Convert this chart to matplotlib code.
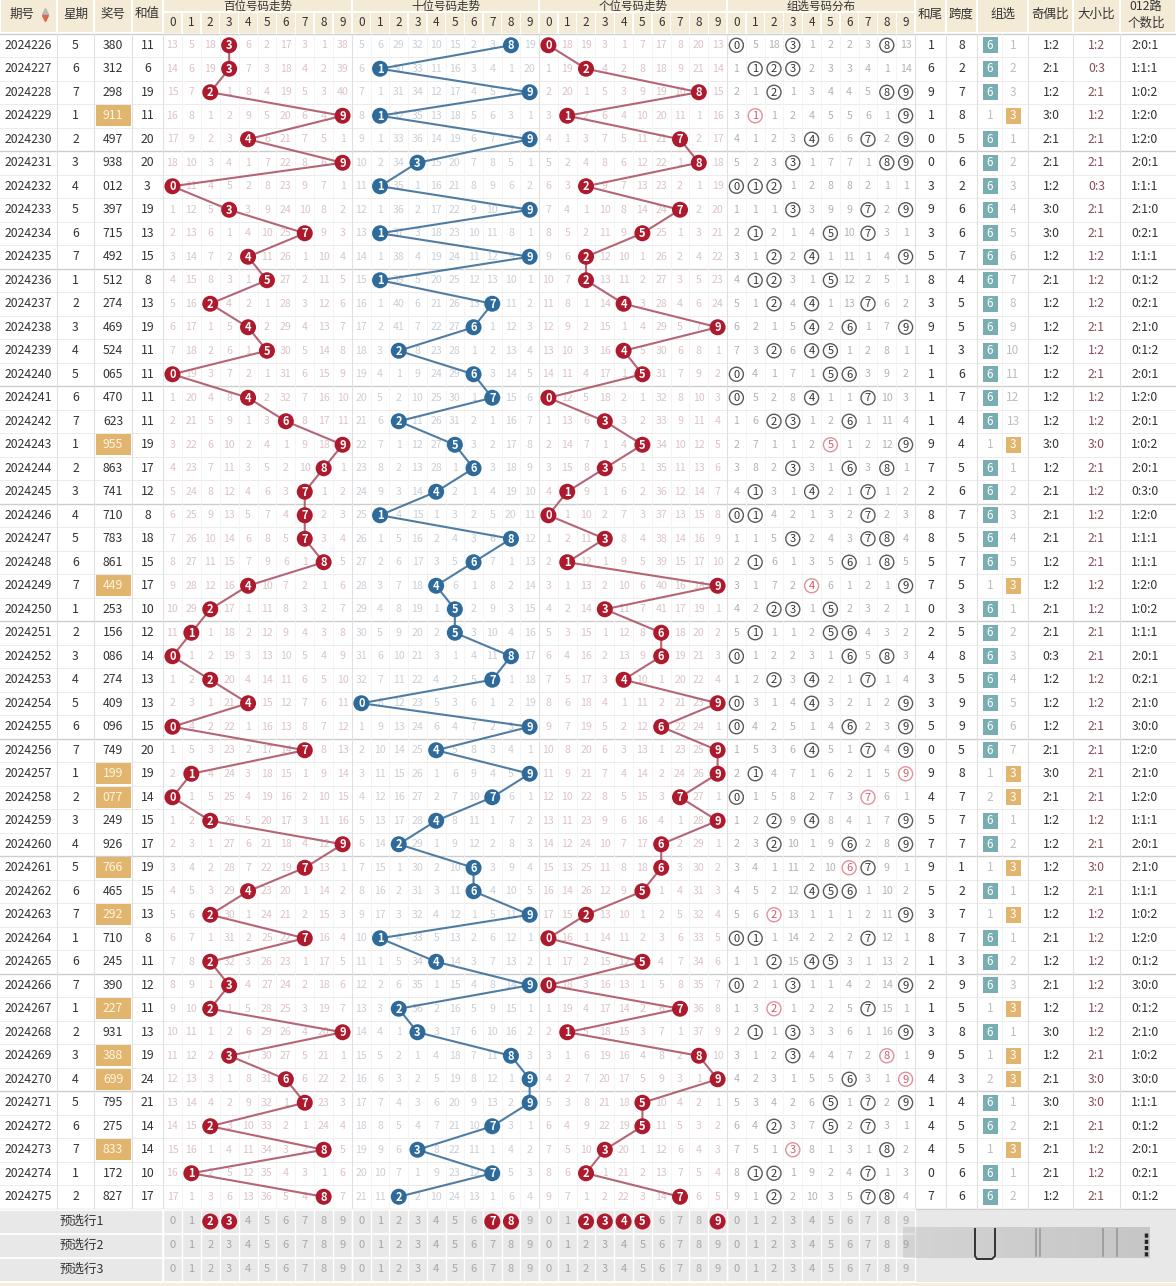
import numpy as np
import matplotlib.pyplot as plt
from matplotlib.patches import Circle, Rectangle

plt.rcParams['font.family'] = ['Noto Sans CJK SC', 'DejaVu Sans']

#%% data
issues = [str(2024226 + i) for i in range(50)]
weekdays = [5, 6, 7, 1, 2, 3, 4, 5, 6, 7,
            1, 2, 3, 4, 5, 6, 7, 1, 2, 3,
            4, 5, 6, 7, 1, 2, 3, 4, 5, 6,
            7, 1, 2, 3, 4, 5, 6, 7, 1, 6,
            7, 1, 2, 3, 4, 5, 6, 7, 1, 2]
draws = ["380", "312", "298", "911", "497", "938", "012", "397", "715", "492",
         "512", "274", "469", "524", "065", "470", "623", "955", "863", "741",
         "710", "783", "861", "449", "253", "156", "086", "274", "409", "096",
         "749", "199", "077", "249", "926", "766", "465", "292", "710", "245",
         "390", "227", "931", "388", "699", "795", "275", "833", "172", "827"]
sums = [11, 6, 19, 11, 20, 20, 3, 19, 13, 15,
        8, 13, 19, 11, 11, 11, 11, 19, 17, 12,
        8, 18, 15, 17, 10, 12, 14, 13, 13, 15,
        20, 19, 14, 15, 17, 19, 15, 13, 8, 11,
        12, 11, 13, 19, 24, 21, 14, 14, 10, 17]
sum_tail = [1, 6, 9, 1, 0, 0, 3, 9, 3, 5,
            8, 3, 9, 1, 1, 1, 1, 9, 7, 2,
            8, 8, 5, 7, 0, 2, 4, 3, 3, 5,
            0, 9, 4, 5, 7, 9, 5, 3, 8, 1,
            2, 1, 3, 9, 4, 1, 4, 4, 0, 7]
span = [8, 2, 7, 8, 5, 6, 2, 6, 6, 7,
        4, 5, 5, 3, 6, 7, 4, 4, 5, 6,
        7, 5, 7, 5, 3, 5, 8, 5, 9, 9,
        5, 8, 7, 7, 7, 1, 2, 7, 7, 3,
        9, 5, 8, 5, 3, 4, 5, 5, 6, 6]
odd_even = ["1:2", "2:1", "1:2", "3:0", "2:1", "2:1", "1:2", "3:0", "3:0", "1:2",
            "2:1", "1:2", "1:2", "1:2", "1:2", "1:2", "1:2", "3:0", "1:2", "2:1",
            "2:1", "2:1", "1:2", "1:2", "2:1", "2:1", "0:3", "1:2", "1:2", "1:2",
            "2:1", "3:0", "2:1", "1:2", "1:2", "1:2", "1:2", "1:2", "2:1", "1:2",
            "2:1", "1:2", "3:0", "1:2", "2:1", "3:0", "2:1", "2:1", "2:1", "1:2"]
big_small = ["1:2", "0:3", "2:1", "1:2", "2:1", "2:1", "0:3", "2:1", "2:1", "1:2",
             "1:2", "1:2", "2:1", "1:2", "2:1", "1:2", "1:2", "3:0", "2:1", "1:2",
             "1:2", "2:1", "2:1", "1:2", "1:2", "2:1", "2:1", "1:2", "1:2", "2:1",
             "2:1", "2:1", "2:1", "1:2", "2:1", "3:0", "2:1", "1:2", "1:2", "1:2",
             "1:2", "1:2", "1:2", "2:1", "3:0", "3:0", "2:1", "1:2", "1:2", "2:1"]
road012 = ["2:0:1", "1:1:1", "1:0:2", "1:2:0", "1:2:0", "2:0:1", "1:1:1", "2:1:0", "0:2:1", "1:1:1",
           "0:1:2", "0:2:1", "2:1:0", "0:1:2", "2:0:1", "1:2:0", "2:0:1", "1:0:2", "2:0:1", "0:3:0",
           "1:2:0", "1:1:1", "1:1:1", "1:2:0", "1:0:2", "1:1:1", "2:0:1", "0:2:1", "2:1:0", "3:0:0",
           "1:2:0", "2:1:0", "1:2:0", "1:1:1", "2:0:1", "2:1:0", "1:1:1", "1:0:2", "1:2:0", "0:1:2",
           "3:0:0", "0:1:2", "2:1:0", "1:0:2", "3:0:0", "1:1:1", "0:1:2", "2:0:1", "0:2:1", "0:1:2"]

# omission values shown on the first row (hit cells = 0)
miss_hund0 = [13, 5, 18, 0, 6, 2, 17, 3, 1, 38]
miss_tens0 = [5, 6, 29, 32, 10, 15, 2, 3, 0, 19]
miss_unit0 = [0, 18, 19, 3, 1, 7, 17, 8, 20, 13]
miss_group0 = [0, 5, 18, 0, 1, 2, 2, 3, 0, 13]
miss_z6_0, miss_z3_0 = 0, 1

# preselect rows: highlighted digits per zone (百位, 十位, 个位)
presel_names = ["预选行1", "预选行2", "预选行3"]
presel_hits = [[[2, 3], [7, 8], [2, 3, 4, 5, 9]], [[], [], []], [[], [], []]]

#%% derive digit lists and omission tables (as the chart does)
hund = [int(d[0]) for d in draws]
tens = [int(d[1]) for d in draws]
unit = [int(d[2]) for d in draws]
n = len(draws)


def omission(first, hits_per_row):
    tab = [list(first)]
    for r in range(1, n):
        prev = tab[-1]
        tab.append([0 if k in hits_per_row[r] else prev[k] + 1 for k in range(10)])
    return tab


miss_h = omission(miss_hund0, [[h] for h in hund])
miss_t = omission(miss_tens0, [[t] for t in tens])
miss_u = omission(miss_unit0, [[u] for u in unit])
miss_g = omission(miss_group0, [[int(c) for c in d] for d in draws])
is_z3 = [len(set(d)) == 2 for d in draws]
z6, z3 = [miss_z6_0], [miss_z3_0]
for r in range(1, n):
    z6.append(z6[-1] + 1 if is_z3[r] else 0)
    z3.append(0 if is_z3[r] else z3[-1] + 1)

#%% layout
W, H = 1176, 1286
fig = plt.figure(figsize=(W / 100, H / 100), dpi=100)
ax = fig.add_axes([0, 0, 1, 1])
ax.set_xlim(0, W)
ax.set_ylim(H, 0)
ax.axis('off')

HEAD_Y = 33.5
RH = 23.5
def row_c(i):
    return HEAD_Y + RH * i + RH / 2

zones = [(163, 352), (352, 539), (539, 727), (727, 915)]
def zone_x(z, k):
    x0, x1 = zones[z]
    w = (x1 - x0) / 10
    return x0 + w * (k + 0.5)

col_edges = [0, 57, 94, 132, 163, 352, 539, 727, 915, 946, 977, 1028, 1073, 1120, W]
beige = '#f4ebd7'
txt = '#333333'
red_ball = '#ad1a2d'
blue_ball = '#2e6b9b'
red_line = '#ad5566'
blue_line = '#3d6f9a'
orange = '#e2b56e'
teal = '#78aeb1'
data_bottom = HEAD_Y + RH * n

# header cells
left_heads = [(0, 57, "期号"), (57, 94, "星期"), (94, 132, "奖号"), (132, 163, "和值"),
              (915, 946, "和尾"), (946, 977, "跨度"), (977, 1028, "组选"),
              (1028, 1073, "奇偶比"), (1073, 1120, "大小比"), (1120, W, "")]
for x0, x1, lab in left_heads:
    ax.add_patch(Rectangle((x0 + 1, -5), x1 - x0 - 2, HEAD_Y + 3.5, fc=beige, ec='none'))
    if lab:
        ax.text((x0 + x1) / 2 - (6 if lab == "期号" else 0), 14, lab, ha='center', va='center',
                fontsize=9, color=txt)
ax.text(1146, 6.5, "012路", ha='center', va='center', fontsize=8.8, color=txt)
ax.text(1146, 23, "个数比", ha='center', va='center', fontsize=9, color=txt)
ax.plot([45], [11], marker='^', ms=4, color='#b9b9b9', ls='none')
ax.plot([45], [17.5], marker='v', ms=4, color='#d9664f', ls='none')

zone_titles = ["百位号码走势", "十位号码走势", "个位号码走势", "组选号码分布"]
for z, (x0, x1) in enumerate(zones):
    ax.add_patch(Rectangle((x0 + 1, -5), x1 - x0 - 2, 16, fc=beige, ec='none'))
    ax.text((x0 + x1) / 2, 6, zone_titles[z], ha='center', va='center', fontsize=8.3, color=txt)
    w = (x1 - x0) / 10
    for k in range(10):
        ax.add_patch(Rectangle((x0 + w * k + 0.7, 12.5), w - 1.4, 20, fc=beige, ec='none'))
        ax.text(zone_x(z, k), 23, str(k), ha='center', va='center', fontsize=8.5, color=txt)

# grid of data area
for i in range(n + 1):
    y = HEAD_Y + RH * i
    strong = (i % 5 == 0)
    ax.plot([0, W], [y, y], color='#cdcdcd' if strong else '#ebebeb',
            lw=1.0 if strong else 0.7, zorder=1)
for x in col_edges[1:-1]:
    ax.plot([x, x], [HEAD_Y, data_bottom], color='#e0e0e0', lw=0.8, zorder=1)
for z in range(4):
    x0, x1 = zones[z]
    w = (x1 - x0) / 10
    for k in range(1, 10):
        ax.plot([x0 + w * k] * 2, [HEAD_Y, data_bottom], color='#f3f3f3', lw=0.6, zorder=1)
ax.plot([1001.5, 1001.5], [HEAD_Y, data_bottom], color='#f0f0f0', lw=0.6, zorder=1)

# left columns
for i in range(n):
    y = row_c(i)
    ax.text(28, y, issues[i], ha='center', va='center', fontsize=8.8, color=txt)
    ax.text(75.5, y, str(weekdays[i]), ha='center', va='center', fontsize=8.8, color=txt)
    if is_z3[i]:
        ax.add_patch(Rectangle((96, y - 10.5), 35, 21, fc=orange, ec='none', zorder=2))
        ax.text(113, y, draws[i], ha='center', va='center', fontsize=8.8, color='#fff6e2', zorder=3)
    else:
        ax.text(113, y, draws[i], ha='center', va='center', fontsize=8.8, color=txt)
    ax.text(147.5, y, str(sums[i]), ha='center', va='center', fontsize=8.8, color=txt)

# position zones: omission numbers, trend lines and balls
pos_sets = [(0, hund, miss_h, red_ball, red_line, '#dcc3c7'),
            (1, tens, miss_t, blue_ball, blue_line, '#c9cfd7'),
            (2, unit, miss_u, red_ball, red_line, '#dcc3c7')]
for z, digits, miss, bcol, lcol, mcol in pos_sets:
    xs = [zone_x(z, d) for d in digits]
    ys = [row_c(i) for i in range(n)]
    ax.plot(xs, ys, color=lcol, lw=1.5, alpha=0.9, zorder=3, solid_capstyle='round')
    for i in range(n):
        for k in range(10):
            if k == digits[i]:
                ax.add_patch(Circle((zone_x(z, k), ys[i]), 8, fc=bcol, ec='none', zorder=4))
                ax.text(zone_x(z, k), ys[i] + 0.3, str(k), ha='center', va='center', fontsize=8,
                        fontweight='bold', color='white', zorder=5)
            else:
                ax.text(zone_x(z, k), ys[i], str(miss[i][k]), ha='center', va='center',
                        fontsize=7.6, color=mcol, zorder=2)

# group distribution zone
for i in range(n):
    y = row_c(i)
    cnt = [draws[i].count(str(k)) for k in range(10)]
    for k in range(10):
        x = zone_x(3, k)
        if cnt[k] > 0:
            pair = cnt[k] > 1
            ax.add_patch(Circle((x, y), 7, fc='white', ec='#e0919b' if pair else '#5a5a5a',
                                lw=1.0, zorder=4))
            ax.text(x, y + 0.3, str(k), ha='center', va='center', fontsize=8,
                    color='#d45a6a' if pair else txt, zorder=5)
        else:
            ax.text(x, y, str(miss_g[i][k]), ha='center', va='center', fontsize=7.6,
                    color='#b2b2b2', zorder=2)

# right columns
for i in range(n):
    y = row_c(i)
    ax.text(931, y, str(sum_tail[i]), ha='center', va='center', fontsize=8.8, color=txt)
    ax.text(961.5, y, str(span[i]), ha='center', va='center', fontsize=8.8, color=txt)
    if is_z3[i]:
        ax.text(990, y, str(z6[i]), ha='center', va='center', fontsize=8.5, color='#bdbdbd')
        ax.add_patch(Rectangle((1005.5, y - 8), 15, 16, fc=orange, ec='none', zorder=2))
        ax.text(1013, y, "3", ha='center', va='center', fontsize=8.5, color='white', zorder=3)
    else:
        ax.add_patch(Rectangle((982.5, y - 8), 15, 16, fc=teal, ec='none', zorder=2))
        ax.text(990, y, "6", ha='center', va='center', fontsize=8.5, color='white', zorder=3)
        ax.text(1013, y, str(z3[i]), ha='center', va='center', fontsize=8.5, color='#bdbdbd')
    ax.text(1051, y, odd_even[i], ha='center', va='center', fontsize=8.8, color=txt)
    ax.text(1096.5, y, big_small[i], ha='center', va='center', fontsize=8.8, color='#8d4a56')
    ax.text(1145, y, road012[i], ha='center', va='center', fontsize=8.8, color=txt)

# preselect rows
PRE_Y0 = data_bottom + 1
PRH = 24
ax.add_patch(Rectangle((0, PRE_Y0), W, PRH * 3, fc='#e8e8e8', ec='none', zorder=1))
for j in range(4):
    yy = PRE_Y0 + PRH * j
    ax.plot([0, 915], [yy, yy], color='white', lw=1.2, zorder=1.5)
ax.plot([163, 163], [PRE_Y0, PRE_Y0 + 3 * PRH], color='white', lw=1.2, zorder=1.5)
for z in range(4):
    x0, x1 = zones[z]
    w = (x1 - x0) / 10
    for k in range(11):
        ax.plot([x0 + w * k] * 2, [PRE_Y0, PRE_Y0 + 3 * PRH], color='white', lw=1.0, zorder=1.5)
for j, name in enumerate(presel_names):
    y = PRE_Y0 + PRH * (j + 0.5)
    ax.text(82, y, name, ha='center', va='center', fontsize=9, color=txt)
    for z in range(4):
        hits = presel_hits[j][z] if z < 3 else []
        for k in range(10):
            x = zone_x(z, k)
            if k in hits:
                ax.add_patch(Circle((x, y), 8, fc=red_ball, ec='none', zorder=4))
                ax.text(x, y + 0.3, str(k), ha='center', va='center', fontsize=8,
                        fontweight='bold', color='white', zorder=5)
            else:
                ax.text(x, y, str(k), ha='center', va='center', fontsize=8, color='#a6a6a6', zorder=2)

# faint watermark strip over the preselect area (right side)
grad = np.linspace(0, 1, 200)[None, :]
ax.imshow(grad, extent=(903, 1150, 1258, 1227), cmap='Greys', vmin=-2.5, vmax=2.5,
          alpha=0.25, aspect='auto', zorder=6)
ax.set_xlim(0, W)
ax.set_ylim(H, 0)
for xv in [1036, 1040, 1103, 1117]:
    ax.plot([xv, xv], [1229, 1256], color='#6a6a6a', lw=1.2, alpha=0.5, zorder=7)
ax.plot([975, 975, 977, 992, 995, 995], [1229, 1256, 1259, 1259, 1256, 1229],
        color='#333333', lw=1.4, zorder=7)
ax.plot([1146, 1146], [1233, 1257], color='#222222', lw=2.5, ls=(0, (1.2, 0.6)), zorder=7)

# bottom beige strip
ax.add_patch(Rectangle((0, PRE_Y0 + 3 * PRH + 1), W, 10, fc='#f6eedb', ec='none', zorder=1))

fig.savefig("out.png", dpi=100, facecolor='white')
